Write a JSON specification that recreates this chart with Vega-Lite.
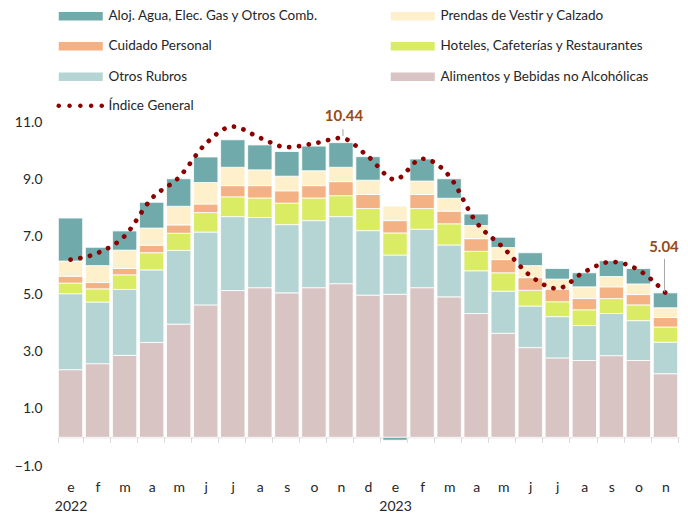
{
  "$schema": "https://vega.github.io/schema/vega-lite/v6.json",
  "width": 622,
  "height": 344,
  "autosize": {"type": "none"},
  "padding": {"left": 57, "top": 122, "right": 9, "bottom": 47},
  "background": "white",
  "config": {
    "view": {"stroke": null},
    "font": "Lato",
    "text": {"font": "Lato"}
  },
  "datasets": {
    "categorias": [
      {"rubro": "Alimentos y Bebidas no Alcohólicas", "orden": 1},
      {"rubro": "Otros Rubros", "orden": 2},
      {"rubro": "Hoteles, Cafeterías y Restaurantes", "orden": 3},
      {"rubro": "Cuidado Personal", "orden": 4},
      {"rubro": "Prendas de Vestir y Calzado", "orden": 5},
      {"rubro": "Aloj. Agua, Elec. Gas y Otros Comb.", "orden": 6}
    ],
    "rubros": [
      {"mes": "2022-01", "rubro": "Alimentos y Bebidas no Alcohólicas", "valor": 2.36},
      {"mes": "2022-02", "rubro": "Alimentos y Bebidas no Alcohólicas", "valor": 2.57},
      {"mes": "2022-03", "rubro": "Alimentos y Bebidas no Alcohólicas", "valor": 2.86},
      {"mes": "2022-04", "rubro": "Alimentos y Bebidas no Alcohólicas", "valor": 3.31},
      {"mes": "2022-05", "rubro": "Alimentos y Bebidas no Alcohólicas", "valor": 3.95},
      {"mes": "2022-06", "rubro": "Alimentos y Bebidas no Alcohólicas", "valor": 4.62},
      {"mes": "2022-07", "rubro": "Alimentos y Bebidas no Alcohólicas", "valor": 5.12},
      {"mes": "2022-08", "rubro": "Alimentos y Bebidas no Alcohólicas", "valor": 5.22},
      {"mes": "2022-09", "rubro": "Alimentos y Bebidas no Alcohólicas", "valor": 5.04},
      {"mes": "2022-10", "rubro": "Alimentos y Bebidas no Alcohólicas", "valor": 5.22},
      {"mes": "2022-11", "rubro": "Alimentos y Bebidas no Alcohólicas", "valor": 5.36},
      {"mes": "2022-12", "rubro": "Alimentos y Bebidas no Alcohólicas", "valor": 4.96},
      {"mes": "2023-01", "rubro": "Alimentos y Bebidas no Alcohólicas", "valor": 4.99},
      {"mes": "2023-02", "rubro": "Alimentos y Bebidas no Alcohólicas", "valor": 5.22},
      {"mes": "2023-03", "rubro": "Alimentos y Bebidas no Alcohólicas", "valor": 4.90},
      {"mes": "2023-04", "rubro": "Alimentos y Bebidas no Alcohólicas", "valor": 4.32},
      {"mes": "2023-05", "rubro": "Alimentos y Bebidas no Alcohólicas", "valor": 3.63},
      {"mes": "2023-06", "rubro": "Alimentos y Bebidas no Alcohólicas", "valor": 3.13},
      {"mes": "2023-07", "rubro": "Alimentos y Bebidas no Alcohólicas", "valor": 2.77},
      {"mes": "2023-08", "rubro": "Alimentos y Bebidas no Alcohólicas", "valor": 2.68},
      {"mes": "2023-09", "rubro": "Alimentos y Bebidas no Alcohólicas", "valor": 2.85},
      {"mes": "2023-10", "rubro": "Alimentos y Bebidas no Alcohólicas", "valor": 2.68},
      {"mes": "2023-11", "rubro": "Alimentos y Bebidas no Alcohólicas", "valor": 2.22},
      {"mes": "2022-01", "rubro": "Otros Rubros", "valor": 2.65},
      {"mes": "2022-02", "rubro": "Otros Rubros", "valor": 2.15},
      {"mes": "2022-03", "rubro": "Otros Rubros", "valor": 2.30},
      {"mes": "2022-04", "rubro": "Otros Rubros", "valor": 2.53},
      {"mes": "2022-05", "rubro": "Otros Rubros", "valor": 2.57},
      {"mes": "2022-06", "rubro": "Otros Rubros", "valor": 2.54},
      {"mes": "2022-07", "rubro": "Otros Rubros", "valor": 2.58},
      {"mes": "2022-08", "rubro": "Otros Rubros", "valor": 2.45},
      {"mes": "2022-09", "rubro": "Otros Rubros", "valor": 2.38},
      {"mes": "2022-10", "rubro": "Otros Rubros", "valor": 2.34},
      {"mes": "2022-11", "rubro": "Otros Rubros", "valor": 2.34},
      {"mes": "2022-12", "rubro": "Otros Rubros", "valor": 2.25},
      {"mes": "2023-01", "rubro": "Otros Rubros", "valor": 1.37},
      {"mes": "2023-02", "rubro": "Otros Rubros", "valor": 2.04},
      {"mes": "2023-03", "rubro": "Otros Rubros", "valor": 1.81},
      {"mes": "2023-04", "rubro": "Otros Rubros", "valor": 1.49},
      {"mes": "2023-05", "rubro": "Otros Rubros", "valor": 1.47},
      {"mes": "2023-06", "rubro": "Otros Rubros", "valor": 1.45},
      {"mes": "2023-07", "rubro": "Otros Rubros", "valor": 1.44},
      {"mes": "2023-08", "rubro": "Otros Rubros", "valor": 1.22},
      {"mes": "2023-09", "rubro": "Otros Rubros", "valor": 1.47},
      {"mes": "2023-10", "rubro": "Otros Rubros", "valor": 1.39},
      {"mes": "2023-11", "rubro": "Otros Rubros", "valor": 1.10},
      {"mes": "2022-01", "rubro": "Hoteles, Cafeterías y Restaurantes", "valor": 0.37},
      {"mes": "2022-02", "rubro": "Hoteles, Cafeterías y Restaurantes", "valor": 0.46},
      {"mes": "2022-03", "rubro": "Hoteles, Cafeterías y Restaurantes", "valor": 0.51},
      {"mes": "2022-04", "rubro": "Hoteles, Cafeterías y Restaurantes", "valor": 0.60},
      {"mes": "2022-05", "rubro": "Hoteles, Cafeterías y Restaurantes", "valor": 0.60},
      {"mes": "2022-06", "rubro": "Hoteles, Cafeterías y Restaurantes", "valor": 0.68},
      {"mes": "2022-07", "rubro": "Hoteles, Cafeterías y Restaurantes", "valor": 0.69},
      {"mes": "2022-08", "rubro": "Hoteles, Cafeterías y Restaurantes", "valor": 0.68},
      {"mes": "2022-09", "rubro": "Hoteles, Cafeterías y Restaurantes", "valor": 0.75},
      {"mes": "2022-10", "rubro": "Hoteles, Cafeterías y Restaurantes", "valor": 0.79},
      {"mes": "2022-11", "rubro": "Hoteles, Cafeterías y Restaurantes", "valor": 0.73},
      {"mes": "2022-12", "rubro": "Hoteles, Cafeterías y Restaurantes", "valor": 0.77},
      {"mes": "2023-01", "rubro": "Hoteles, Cafeterías y Restaurantes", "valor": 0.77},
      {"mes": "2023-02", "rubro": "Hoteles, Cafeterías y Restaurantes", "valor": 0.72},
      {"mes": "2023-03", "rubro": "Hoteles, Cafeterías y Restaurantes", "valor": 0.74},
      {"mes": "2023-04", "rubro": "Hoteles, Cafeterías y Restaurantes", "valor": 0.68},
      {"mes": "2023-05", "rubro": "Hoteles, Cafeterías y Restaurantes", "valor": 0.64},
      {"mes": "2023-06", "rubro": "Hoteles, Cafeterías y Restaurantes", "valor": 0.55},
      {"mes": "2023-07", "rubro": "Hoteles, Cafeterías y Restaurantes", "valor": 0.52},
      {"mes": "2023-08", "rubro": "Hoteles, Cafeterías y Restaurantes", "valor": 0.55},
      {"mes": "2023-09", "rubro": "Hoteles, Cafeterías y Restaurantes", "valor": 0.52},
      {"mes": "2023-10", "rubro": "Hoteles, Cafeterías y Restaurantes", "valor": 0.55},
      {"mes": "2023-11", "rubro": "Hoteles, Cafeterías y Restaurantes", "valor": 0.53},
      {"mes": "2022-01", "rubro": "Cuidado Personal", "valor": 0.24},
      {"mes": "2022-02", "rubro": "Cuidado Personal", "valor": 0.22},
      {"mes": "2022-03", "rubro": "Cuidado Personal", "valor": 0.22},
      {"mes": "2022-04", "rubro": "Cuidado Personal", "valor": 0.26},
      {"mes": "2022-05", "rubro": "Cuidado Personal", "valor": 0.29},
      {"mes": "2022-06", "rubro": "Cuidado Personal", "valor": 0.30},
      {"mes": "2022-07", "rubro": "Cuidado Personal", "valor": 0.39},
      {"mes": "2022-08", "rubro": "Cuidado Personal", "valor": 0.43},
      {"mes": "2022-09", "rubro": "Cuidado Personal", "valor": 0.43},
      {"mes": "2022-10", "rubro": "Cuidado Personal", "valor": 0.43},
      {"mes": "2022-11", "rubro": "Cuidado Personal", "valor": 0.49},
      {"mes": "2022-12", "rubro": "Cuidado Personal", "valor": 0.49},
      {"mes": "2023-01", "rubro": "Cuidado Personal", "valor": 0.43},
      {"mes": "2023-02", "rubro": "Cuidado Personal", "valor": 0.49},
      {"mes": "2023-03", "rubro": "Cuidado Personal", "valor": 0.44},
      {"mes": "2023-04", "rubro": "Cuidado Personal", "valor": 0.44},
      {"mes": "2023-05", "rubro": "Cuidado Personal", "valor": 0.46},
      {"mes": "2023-06", "rubro": "Cuidado Personal", "valor": 0.44},
      {"mes": "2023-07", "rubro": "Cuidado Personal", "valor": 0.44},
      {"mes": "2023-08", "rubro": "Cuidado Personal", "valor": 0.39},
      {"mes": "2023-09", "rubro": "Cuidado Personal", "valor": 0.41},
      {"mes": "2023-10", "rubro": "Cuidado Personal", "valor": 0.36},
      {"mes": "2023-11", "rubro": "Cuidado Personal", "valor": 0.33},
      {"mes": "2022-01", "rubro": "Prendas de Vestir y Calzado", "valor": 0.53},
      {"mes": "2022-02", "rubro": "Prendas de Vestir y Calzado", "valor": 0.59},
      {"mes": "2022-03", "rubro": "Prendas de Vestir y Calzado", "valor": 0.64},
      {"mes": "2022-04", "rubro": "Prendas de Vestir y Calzado", "valor": 0.60},
      {"mes": "2022-05", "rubro": "Prendas de Vestir y Calzado", "valor": 0.65},
      {"mes": "2022-06", "rubro": "Prendas de Vestir y Calzado", "valor": 0.75},
      {"mes": "2022-07", "rubro": "Prendas de Vestir y Calzado", "valor": 0.64},
      {"mes": "2022-08", "rubro": "Prendas de Vestir y Calzado", "valor": 0.55},
      {"mes": "2022-09", "rubro": "Prendas de Vestir y Calzado", "valor": 0.51},
      {"mes": "2022-10", "rubro": "Prendas de Vestir y Calzado", "valor": 0.52},
      {"mes": "2022-11", "rubro": "Prendas de Vestir y Calzado", "valor": 0.50},
      {"mes": "2022-12", "rubro": "Prendas de Vestir y Calzado", "valor": 0.50},
      {"mes": "2023-01", "rubro": "Prendas de Vestir y Calzado", "valor": 0.51},
      {"mes": "2023-02", "rubro": "Prendas de Vestir y Calzado", "valor": 0.47},
      {"mes": "2023-03", "rubro": "Prendas de Vestir y Calzado", "valor": 0.45},
      {"mes": "2023-04", "rubro": "Prendas de Vestir y Calzado", "valor": 0.46},
      {"mes": "2023-05", "rubro": "Prendas de Vestir y Calzado", "valor": 0.42},
      {"mes": "2023-06", "rubro": "Prendas de Vestir y Calzado", "valor": 0.42},
      {"mes": "2023-07", "rubro": "Prendas de Vestir y Calzado", "valor": 0.35},
      {"mes": "2023-08", "rubro": "Prendas de Vestir y Calzado", "valor": 0.41},
      {"mes": "2023-09", "rubro": "Prendas de Vestir y Calzado", "valor": 0.36},
      {"mes": "2023-10", "rubro": "Prendas de Vestir y Calzado", "valor": 0.37},
      {"mes": "2023-11", "rubro": "Prendas de Vestir y Calzado", "valor": 0.34},
      {"mes": "2022-01", "rubro": "Aloj. Agua, Elec. Gas y Otros Comb.", "valor": 1.50},
      {"mes": "2022-02", "rubro": "Aloj. Agua, Elec. Gas y Otros Comb.", "valor": 0.64},
      {"mes": "2022-03", "rubro": "Aloj. Agua, Elec. Gas y Otros Comb.", "valor": 0.67},
      {"mes": "2022-04", "rubro": "Aloj. Agua, Elec. Gas y Otros Comb.", "valor": 0.90},
      {"mes": "2022-05", "rubro": "Aloj. Agua, Elec. Gas y Otros Comb.", "valor": 0.96},
      {"mes": "2022-06", "rubro": "Aloj. Agua, Elec. Gas y Otros Comb.", "valor": 0.89},
      {"mes": "2022-07", "rubro": "Aloj. Agua, Elec. Gas y Otros Comb.", "valor": 0.96},
      {"mes": "2022-08", "rubro": "Aloj. Agua, Elec. Gas y Otros Comb.", "valor": 0.87},
      {"mes": "2022-09", "rubro": "Aloj. Agua, Elec. Gas y Otros Comb.", "valor": 0.86},
      {"mes": "2022-10", "rubro": "Aloj. Agua, Elec. Gas y Otros Comb.", "valor": 0.86},
      {"mes": "2022-11", "rubro": "Aloj. Agua, Elec. Gas y Otros Comb.", "valor": 0.86},
      {"mes": "2022-12", "rubro": "Aloj. Agua, Elec. Gas y Otros Comb.", "valor": 0.82},
      {"mes": "2023-01", "rubro": "Aloj. Agua, Elec. Gas y Otros Comb.", "valor": -0.10},
      {"mes": "2023-02", "rubro": "Aloj. Agua, Elec. Gas y Otros Comb.", "valor": 0.77},
      {"mes": "2023-03", "rubro": "Aloj. Agua, Elec. Gas y Otros Comb.", "valor": 0.68},
      {"mes": "2023-04", "rubro": "Aloj. Agua, Elec. Gas y Otros Comb.", "valor": 0.40},
      {"mes": "2023-05", "rubro": "Aloj. Agua, Elec. Gas y Otros Comb.", "valor": 0.36},
      {"mes": "2023-06", "rubro": "Aloj. Agua, Elec. Gas y Otros Comb.", "valor": 0.45},
      {"mes": "2023-07", "rubro": "Aloj. Agua, Elec. Gas y Otros Comb.", "valor": 0.37},
      {"mes": "2023-08", "rubro": "Aloj. Agua, Elec. Gas y Otros Comb.", "valor": 0.49},
      {"mes": "2023-09", "rubro": "Aloj. Agua, Elec. Gas y Otros Comb.", "valor": 0.55},
      {"mes": "2023-10", "rubro": "Aloj. Agua, Elec. Gas y Otros Comb.", "valor": 0.54},
      {"mes": "2023-11", "rubro": "Aloj. Agua, Elec. Gas y Otros Comb.", "valor": 0.52}
    ],
    "indice": [
      {"mes": "2022-01", "valor": 6.20},
      {"mes": "2022-02", "valor": 6.43},
      {"mes": "2022-03", "valor": 7.02},
      {"mes": "2022-04", "valor": 8.33},
      {"mes": "2022-05", "valor": 9.06},
      {"mes": "2022-06", "valor": 10.24},
      {"mes": "2022-07", "valor": 10.84},
      {"mes": "2022-08", "valor": 10.45},
      {"mes": "2022-09", "valor": 10.12},
      {"mes": "2022-10", "valor": 10.25},
      {"mes": "2022-11", "valor": 10.44},
      {"mes": "2022-12", "valor": 9.80},
      {"mes": "2023-01", "valor": 8.99},
      {"mes": "2023-02", "valor": 9.72},
      {"mes": "2023-03", "valor": 9.12},
      {"mes": "2023-04", "valor": 7.51},
      {"mes": "2023-05", "valor": 6.62},
      {"mes": "2023-06", "valor": 5.64},
      {"mes": "2023-07", "valor": 5.19},
      {"mes": "2023-08", "valor": 5.77},
      {"mes": "2023-09", "valor": 6.12},
      {"mes": "2023-10", "valor": 5.84},
      {"mes": "2023-11", "valor": 5.04}
    ]
  },
  "encoding": {
    "x": {
      "field": "mes",
      "type": "ordinal",
      "scale": {"paddingInner": 0.1, "paddingOuter": 0.05},
      "axis": {
        "title": null,
        "offset": -28.7,
        "domainColor": "#D9D9D9",
        "tickColor": "#D9D9D9",
        "tickSize": 5,
        "tickBand": "extent",
        "labelPadding": 38,
        "labelAngle": 0,
        "labelFont": "Lato",
        "labelFontSize": 14,
        "labelColor": "#262626",
        "labelLineHeight": 19,
        "labelBaseline": "top",
        "labelExpr": "substring(datum.value,5,7)=='01' ? ['e', substring(datum.value,0,4)] : substring('efmamjjasond', toNumber(substring(datum.value,5,7))-1, toNumber(substring(datum.value,5,7)))"
      }
    },
    "y": {
      "field": "valor",
      "type": "quantitative",
      "scale": {"domain": [-1, 11], "nice": false, "zero": false},
      "axis": {
        "title": null,
        "values": [-1, 1, 3, 5, 7, 9, 11],
        "format": ".1f",
        "domain": false,
        "ticks": false,
        "grid": false,
        "labelPadding": 15,
        "labelFont": "Lato",
        "labelFontSize": 14,
        "labelColor": "#262626"
      }
    }
  },
  "layer": [
    {
      "data": {"name": "rubros"},
      "transform": [
        {"lookup": "rubro", "from": {"data": {"name": "categorias"}, "key": "rubro", "fields": ["orden"]}}
      ],
      "mark": {"type": "bar", "stroke": "white", "strokeWidth": 0.8},
      "encoding": {
        "order": {"field": "orden", "type": "quantitative", "sort": "ascending"},
        "color": {
          "field": "rubro",
          "type": "nominal",
          "scale": {
            "domain": ["Aloj. Agua, Elec. Gas y Otros Comb.", "Cuidado Personal", "Otros Rubros", "Prendas de Vestir y Calzado", "Hoteles, Cafeterías y Restaurantes", "Alimentos y Bebidas no Alcohólicas"],
            "range": ["#70AAAA", "#F4B183", "#B4D5D4", "#FFF0CC", "#D9EC63", "#D9C4C4"]
          },
          "legend": {
            "title": null,
            "orient": "none",
            "legendX": 0,
            "legendY": -113,
            "columns": 2,
            "columnPadding": 70,
            "rowPadding": 15.5,
            "padding": 0,
            "symbolType": "M-1,-0.85H7.8V0.85H-1Z",
            "symbolSize": 100,
            "symbolStrokeWidth": 0,
            "labelOffset": 38,
            "labelFont": "Lato",
            "labelFontSize": 13.5,
            "labelColor": "#262626",
            "labelLimit": 400
          }
        }
      }
    },
    {
      "data": {"name": "indice"},
      "mark": {"type": "line", "interpolate": "monotone", "strokeDash": [0.1, 9.8], "strokeCap": "round", "strokeWidth": 4.7},
      "encoding": {
        "stroke": {
          "datum": "Índice General",
          "type": "nominal",
          "scale": {"domain": ["Índice General"], "range": ["#8B0000"]},
          "legend": {
            "title": null,
            "orient": "none",
            "legendX": 0,
            "legendY": -23,
            "padding": 0,
            "symbolType": "M-1.46,0a0.46,0.46 0 1,0 0.92,0a0.46,0.46 0 1,0 -0.92,0M0.70,0a0.46,0.46 0 1,0 0.92,0a0.46,0.46 0 1,0 -0.92,0M2.86,0a0.46,0.46 0 1,0 0.92,0a0.46,0.46 0 1,0 -0.92,0M5.02,0a0.46,0.46 0 1,0 0.92,0a0.46,0.46 0 1,0 -0.92,0M7.14,0a0.46,0.46 0 1,0 0.92,0a0.46,0.46 0 1,0 -0.92,0",
            "symbolSize": 100,
            "labelOffset": 38,
            "labelFont": "Lato",
            "labelFontSize": 13.5,
            "labelColor": "#262626",
            "encode": {
              "symbols": {"update": {"fill": {"value": "#8B0000"}, "stroke": {"value": "transparent"}, "strokeWidth": {"value": 0}, "opacity": {"value": 1}}}
            }
          }
        }
      }
    },
    {
      "data": {"name": "indice"},
      "transform": [{"filter": "datum.mes == '2022-11'"}],
      "mark": {"type": "rule", "color": "#A6A6A6", "strokeWidth": 1, "xOffset": 2, "yOffset": -2, "y2Offset": -9},
      "encoding": {"y2": {"field": "valor"}}
    },
    {
      "data": {"name": "indice"},
      "transform": [{"filter": "datum.mes == '2022-11'"}],
      "mark": {"type": "text", "dx": 3, "dy": -22, "fontSize": 15, "fontWeight": "bold", "color": "#9A4A14", "font": "Lato"},
      "encoding": {"text": {"field": "valor", "type": "quantitative", "format": ".2f"}}
    },
    {
      "data": {"name": "indice"},
      "transform": [{"filter": "datum.mes == '2023-11'"}],
      "mark": {"type": "rule", "color": "#A6A6A6", "strokeWidth": 1, "xOffset": -1, "yOffset": -1, "y2Offset": -34},
      "encoding": {"y2": {"field": "valor"}}
    },
    {
      "data": {"name": "indice"},
      "transform": [{"filter": "datum.mes == '2023-11'"}],
      "mark": {"type": "text", "dx": -1.5, "dy": -45.5, "fontSize": 15, "fontWeight": "bold", "color": "#9A4A14", "font": "Lato"},
      "encoding": {"text": {"field": "valor", "type": "quantitative", "format": ".2f"}}
    }
  ]
}
